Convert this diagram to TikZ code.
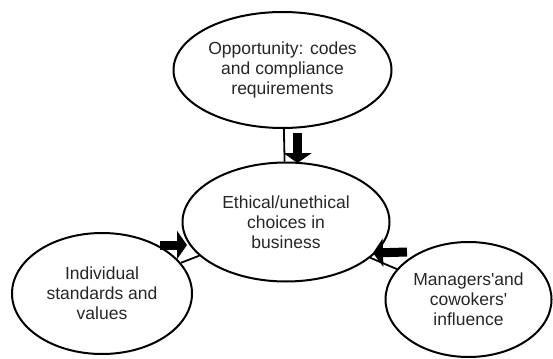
\documentclass[tikz,border=0pt]{standalone}
\usepackage{fontspec}
\setmainfont{Liberation Sans}
\usetikzlibrary{shapes.geometric, arrows.meta}

\begin{document}
\begin{tikzpicture}[x=1pt, y=-1pt,
	oval/.style={ellipse, draw, line width=2pt, inner sep=0pt, align=center,
		text=black!85, font=\fontsize{17.5}{20}\selectfont},
	link/.style={line width=1.8pt},
	bigarrow/.style={line width=9pt, -{Triangle[length=10pt, width=28pt]}}]
	\useasboundingbox (0,0) rectangle (553,358);
	\node[oval, minimum width=218pt, minimum height=116pt] (opp) at (282.5,70) {Opportunity: codes\\and compliance\\requirements};
	\node[oval, minimum width=207pt, minimum height=119pt] (eth) at (286,222) {Ethical/unethical\\choices in\\business};
	\node[oval, minimum width=180pt, minimum height=121pt] (ind) at (102,293.5) {Individual\\standards and\\values};
	\node[oval, minimum width=166pt, minimum height=115pt] (mgr) at (468.5,299.5) {Managers\textquotesingle and\\cowokers\textquotesingle\\influence};
	\draw[link] (opp) -- (eth);
	\draw[link] (ind) -- (eth);
	\draw[link] (mgr) -- (eth);
	\coordinate (downA) at (297.5,133);
	\coordinate (downB) at (297.5,163);
	\coordinate (leftA) at (160,245);
	\coordinate (leftB) at (187,245);
	\coordinate (rightA) at (407,252);
	\coordinate (rightB) at (373,253);
	\draw[bigarrow] (downA) -- (downB);
	\draw[bigarrow] (leftA) -- (leftB);
	\draw[bigarrow] (rightA) -- (rightB);
\end{tikzpicture}
\end{document}
